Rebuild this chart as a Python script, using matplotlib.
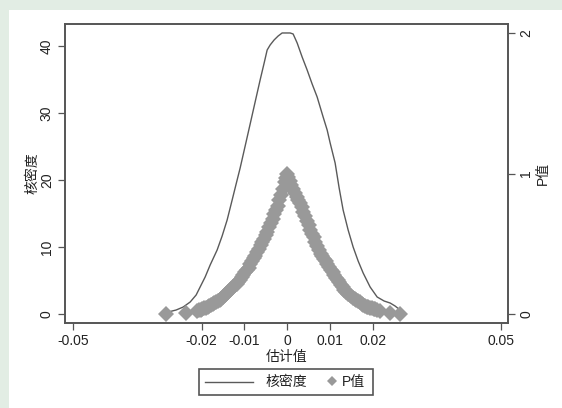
import matplotlib
matplotlib.use("Agg")
import matplotlib.pyplot as plt
from matplotlib.lines import Line2D
from matplotlib.patches import Rectangle

plt.rcParams['font.family'] = ['Liberation Sans', 'Noto Sans CJK SC', 'DejaVu Sans']

# Kernel density curve (estimate, density)
kd_x = [-0.02780, -0.02593, -0.02430, -0.02266, -0.02126, -0.02033, -0.01916, -0.01799,
        -0.01636, -0.01519, -0.01402, -0.01285, -0.01192, -0.01098, -0.00981, -0.00864,
        -0.00748, -0.00631, -0.00537, -0.00467, -0.00397, -0.00304, -0.00210, -0.00117,
        -0.00023, 0.00070, 0.00140, 0.00234, 0.00350, 0.00467, 0.00584, 0.00701,
        0.00841, 0.00935, 0.01005, 0.01121, 0.01215, 0.01308, 0.01425, 0.01542,
        0.01659, 0.01776, 0.01939, 0.02103, 0.02266, 0.02407, 0.02523, 0.02640]
kd_y = [0.30, 0.60, 1.04, 1.79, 2.84, 4.03, 5.52, 7.31,
        9.55, 11.64, 14.03, 17.01, 19.40, 21.79, 25.07, 28.36,
        31.64, 34.93, 37.46, 39.40, 40.15, 40.90, 41.49, 41.94,
        41.94, 41.94, 41.79, 40.45, 38.36, 36.42, 34.33, 32.39,
        29.40, 27.46, 25.52, 22.54, 18.81, 15.52, 12.54, 10.00,
        7.91, 6.12, 4.03, 2.54, 1.94, 1.64, 1.19, 0.60]

# P values (estimate, p)
p_x = [-0.0283, -0.0236,
       -0.0210, -0.0206, -0.0202, -0.0198, -0.0194, -0.0190, -0.0186, -0.0182,
       -0.0178, -0.0174, -0.0170, -0.0166, -0.0162, -0.0158, -0.0154, -0.0150,
       -0.0146, -0.0142, -0.0138, -0.0134, -0.0130, -0.0126, -0.0122, -0.0118,
       -0.0114, -0.0110, -0.0106, -0.0102, -0.0098, -0.0094, -0.0090, -0.0086,
       -0.0082, -0.0078, -0.0074, -0.0070, -0.0066, -0.0062, -0.0058, -0.0054,
       -0.0050, -0.0046, -0.0042, -0.0038, -0.0034, -0.0030, -0.0026, -0.0022,
       -0.0018, -0.0014, -0.0010, -0.0006, -0.0003, 0.0000,
       0.0003, 0.0006, 0.0010, 0.0014, 0.0018, 0.0022, 0.0026, 0.0030,
       0.0034, 0.0038, 0.0042, 0.0046, 0.0050, 0.0054, 0.0058, 0.0062,
       0.0066, 0.0070, 0.0074, 0.0078, 0.0082, 0.0086, 0.0090, 0.0094,
       0.0098, 0.0102, 0.0106, 0.0110, 0.0114, 0.0118, 0.0122, 0.0126,
       0.0130, 0.0134, 0.0138, 0.0142, 0.0146, 0.0150, 0.0154, 0.0158,
       0.0162, 0.0166, 0.0170, 0.0174, 0.0178, 0.0182, 0.0186, 0.0190,
       0.0194, 0.0198, 0.0202, 0.0206, 0.0210, 0.0217, 0.0241, 0.0264]
p_y = [0.000, 0.010,
       0.020, 0.025, 0.030, 0.035, 0.040, 0.044, 0.050, 0.056,
       0.063, 0.070, 0.076, 0.084, 0.093, 0.102, 0.110, 0.120,
       0.132, 0.144, 0.156, 0.168, 0.180, 0.192, 0.204, 0.216,
       0.228, 0.240, 0.260, 0.280, 0.298, 0.314, 0.330, 0.354,
       0.376, 0.396, 0.416, 0.440, 0.464, 0.488, 0.512, 0.536,
       0.560, 0.587, 0.616, 0.645, 0.675, 0.710, 0.740, 0.770,
       0.810, 0.850, 0.890, 0.940, 0.970, 1.000,
       0.975, 0.950, 0.920, 0.890, 0.862, 0.836, 0.812, 0.790,
       0.760, 0.728, 0.696, 0.664, 0.630, 0.598, 0.570, 0.545,
       0.515, 0.485, 0.456, 0.430, 0.410, 0.392, 0.375, 0.355,
       0.333, 0.315, 0.297, 0.275, 0.257, 0.240, 0.226, 0.210,
       0.192, 0.174, 0.158, 0.144, 0.134, 0.126, 0.116, 0.108,
       0.100, 0.092, 0.082, 0.073, 0.064, 0.057, 0.051, 0.047,
       0.044, 0.041, 0.038, 0.034, 0.030, 0.020, 0.010, 0.000]

x_ticks = [-0.05, -0.02, -0.01, 0, 0.01, 0.02, 0.05]
x_ticklabels = ['-0.05', '-0.02', '-0.01', '0', '0.01', '0.02', '0.05']
y1_ticks = [0, 10, 20, 30, 40]
y2_ticks = [0, 1, 2]
legend_labels = ['核密度', 'P值']

W, H = 562, 408
fig = plt.figure(figsize=(W / 100, H / 100), dpi=100)
fig.patch.set_facecolor('#e2ede4')
fig.patches.append(Rectangle((9 / W, 0), 1, (H - 10) / H, transform=fig.transFigure,
                             facecolor='white', edgecolor='none', zorder=-10))

ax = fig.add_axes([65 / W, 1 - 323 / H, (508 - 65) / W, (323 - 24) / H])
ax.set_facecolor('white')
ax2 = ax.twinx()

spine_c = '#555555'
line_c = '#5a5a5a'
pt_c = '#999999'
msize = 8.0

ax.plot(kd_x, kd_y, color=line_c, lw=1.0, zorder=2)
ax2.plot(p_x, p_y, linestyle='none', marker='D', markersize=msize,
         color=pt_c, markeredgewidth=0, zorder=3)

ax.set_xlim(-0.0519, 0.0516)
ax.set_ylim(-1.34, 43.28)
ax2.set_ylim(-0.064, 2.064)

ax.set_xticks(x_ticks)
ax.set_xticklabels(x_ticklabels)
ax.set_yticks(y1_ticks)
ax.set_yticklabels([str(v) for v in y1_ticks], rotation=90, va='center')
ax2.set_yticks(y2_ticks)
ax2.set_yticklabels([str(v) for v in y2_ticks], rotation=90, va='center')

for a in (ax, ax2):
    for s in a.spines.values():
        s.set_color(spine_c)
        s.set_linewidth(1.2)
    a.tick_params(colors='#222222', labelsize=10, length=5, width=0.9,
                  direction='out', pad=3)
    a.tick_params(axis='both', color=spine_c)

ax.set_xlabel('估计值', fontsize=10, labelpad=1, color='#222222')
ax.set_ylabel('核密度', fontsize=10, labelpad=0, color='#222222')
ax2.set_ylabel('P值', fontsize=10, labelpad=2, color='#222222')

# manual legend box (figure pixel coordinates)
def fx(px):
    return px / W

def fy(py):
    return 1 - py / H

fig.patches.append(Rectangle((fx(199), fy(395)), fx(373) - fx(199), fy(369) - fy(395),
                             transform=fig.transFigure, facecolor='white',
                             edgecolor=spine_c, linewidth=1.2, zorder=5))
fig.lines.append(Line2D([fx(205), fx(253)], [fy(382), fy(382)], transform=fig.transFigure,
                        color=line_c, lw=1.0, zorder=6))
fig.text(fx(266), fy(382), legend_labels[0], fontsize=10, va='center', ha='left',
         color='#222222', zorder=6)
fig.lines.append(Line2D([fx(332)], [fy(381)], transform=fig.transFigure, linestyle='none',
                        marker='D', markersize=5.5, color=pt_c, markeredgewidth=0, zorder=6))
fig.text(fx(342), fy(382), legend_labels[1], fontsize=10, va='center', ha='left',
         color='#222222', zorder=6)

fig.savefig('out.png', dpi=100, facecolor=fig.get_facecolor())
